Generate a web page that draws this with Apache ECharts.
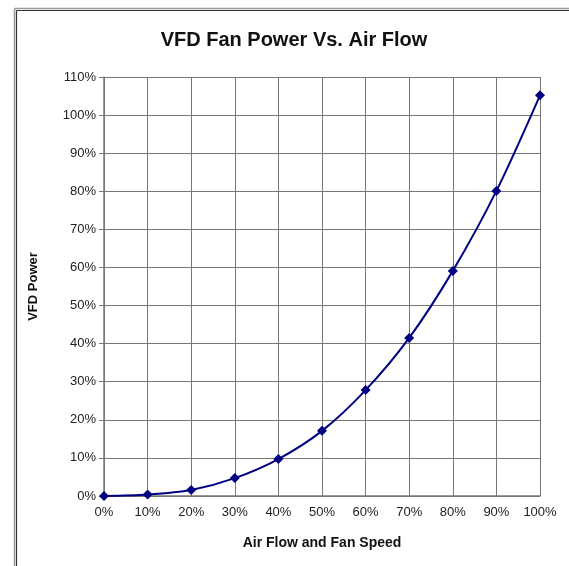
<!DOCTYPE html>
<html>
<head>
<meta charset="utf-8">
<script src="https://cdn.jsdelivr.net/npm/echarts@6/dist/echarts.min.js"></script>
<style>
html,body{margin:0;padding:0;background:#fff;}
#chart{width:569px;height:566px;}
</style>
</head>
<body>
<div id="chart"></div>
<script>
var airFlow = [0, 10, 20, 30, 40, 50, 60, 70, 80, 90, 100];
var vfdPower = [0, 0.4, 1.6, 4.7, 9.7, 17.1, 27.8, 41.5, 59.1, 80.1, 105.2];

var chart = echarts.init(document.getElementById('chart'), null, {renderer: 'canvas'});
var font = '"Liberation Sans", Arial, sans-serif';
chart.setOption({
  animation: false,
  backgroundColor: '#fff',
  title: {
    text: 'VFD Fan Power Vs. Air Flow',
    left: 289,
    top: 25,
    textAlign: 'center',
    textStyle: {fontFamily: font, fontSize: 20, fontWeight: 'bold', color: '#111'}
  },
  graphic: [
    {type: 'line', shape: {x1: 14.5, y1: 8.5, x2: 569, y2: 8.5}, style: {stroke: '#999', lineWidth: 1.5}, silent: true},
    {type: 'line', shape: {x1: 14.5, y1: 8.5, x2: 14.5, y2: 566}, style: {stroke: '#999', lineWidth: 1.5}, silent: true},
    {type: 'line', shape: {x1: 16.5, y1: 10.5, x2: 569, y2: 10.5}, style: {stroke: '#333', lineWidth: 1.2}, silent: true},
    {type: 'line', shape: {x1: 16.5, y1: 10.5, x2: 16.5, y2: 566}, style: {stroke: '#333', lineWidth: 1.2}, silent: true}
  ],
  grid: {left: 104, right: 29, top: 77, bottom: 70, containLabel: false, show: false},
  xAxis: {
    type: 'value', min: 0, max: 100, interval: 10,
    name: 'Air Flow and Fan Speed', nameLocation: 'middle', nameGap: 40,
    nameTextStyle: {fontFamily: font, fontSize: 14, fontWeight: 'bold', color: '#111'},
    axisLine: {show: true, lineStyle: {color: '#777', width: 1.5}},
    axisTick: {show: false},
    axisLabel: {formatter: '{value}%', fontFamily: font, fontSize: 13, color: '#222', margin: 10},
    splitLine: {show: true, lineStyle: {color: '#777', width: 1}}
  },
  yAxis: {
    type: 'value', min: 0, max: 110, interval: 10,
    name: 'VFD Power', nameLocation: 'middle', nameGap: 64,
    nameTextStyle: {fontFamily: font, fontSize: 13, fontWeight: 'bold', color: '#111'},
    axisLine: {show: true, lineStyle: {color: '#777', width: 1.5}},
    axisTick: {show: true, inside: false, length: 5, lineStyle: {color: '#777'}},
    axisLabel: {formatter: '{value}%', fontFamily: font, fontSize: 13, color: '#222', margin: 8},
    splitLine: {show: true, lineStyle: {color: '#777', width: 1}}
  },
  series: [{
    type: 'line',
    data: airFlow.map(function (x, i) { return [x, vfdPower[i]]; }),
    smooth: 0.3,
    symbol: 'diamond',
    symbolSize: 10,
    lineStyle: {color: '#000080', width: 2},
    itemStyle: {color: '#000080'},
    clip: false
  }]
});
</script>
</body>
</html>
